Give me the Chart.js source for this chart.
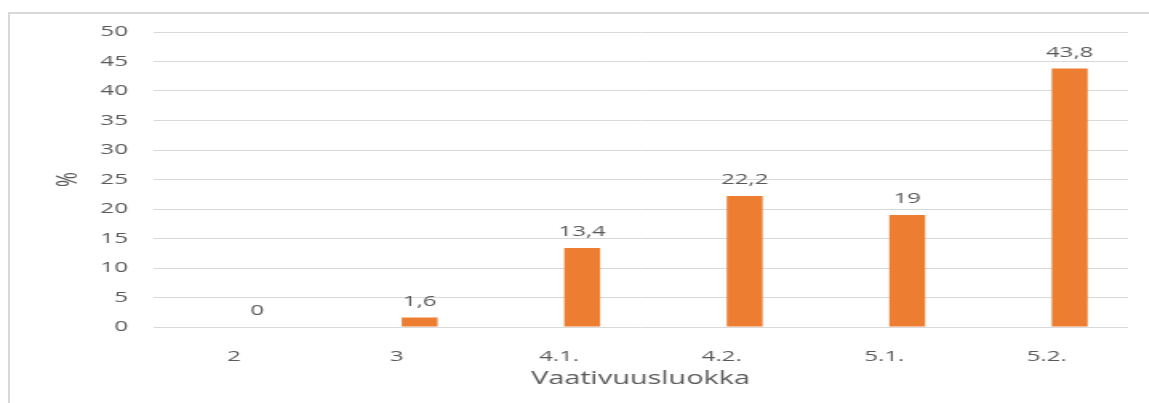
<!DOCTYPE html>
<html>
<head>
<meta charset="utf-8">
<script src="https://cdn.jsdelivr.net/npm/chart.js@4/dist/chart.umd.min.js"></script>
<style>
  html, body { margin: 0; padding: 0; background: #fff; overflow: hidden; }
  #frame { position: absolute; left: 8px; top: 12px; width: 1300px; height: 500px;
           border-left: 2px solid #d9d9d9; border-top: 2px solid #d9d9d9; }
  #wrap { position: absolute; left: 0; top: 0; width: 718px; height: 403px;
          transform: scaleX(1.6); transform-origin: 0 0; }
</style>
</head>
<body>
<div id="frame"></div>
<div id="wrap"><canvas id="vaativuusChart"></canvas></div>
<script>
// Vaativuusluokka jakauma (%)
var categories = ["2", "3", "4.1.", "4.2.", "5.1.", "5.2."];
var percentValues = [0, 1.6, 13.4, 22.2, 19, 43.8];
var yTicksMax = 50;
var yTicksStep = 5;

var textColor = "#595959";
var fontFamily = "'Open Sans', sans-serif";

// arvot pylväiden päälle, pilkku desimaalierottimena
var valueLabels = {
	id: 'valueLabels',
	afterDatasetsDraw: function(chart) {
		var ctx = chart.ctx;
		var meta = chart.getDatasetMeta(1);
		ctx.save();
		ctx.font = "15px " + fontFamily;
		ctx.fillStyle = textColor;
		ctx.textAlign = "center";
		ctx.textBaseline = "alphabetic";
		meta.data.forEach(function(bar, i) {
			var txt = String(percentValues[i]).replace(".", ",");
			ctx.fillText(txt, bar.x, bar.y - 12);
		});
		ctx.restore();
	}
};

var chartData = {
	labels: categories,
	datasets: [
		{ label: "", data: [], backgroundColor: "rgba(0,0,0,0)" },
		{ label: "%", data: percentValues, backgroundColor: "#ED7D31",
		  categoryPercentage: 0.566, barPercentage: 0.78 }
	]
};

new Chart(document.getElementById("vaativuusChart"), {
	type: 'bar',
	data: chartData,
	plugins: [valueLabels],
	options: {
		responsive: true,
		maintainAspectRatio: false,
		animation: false,
		layout: { padding: { left: 0, right: 13, top: 32, bottom: 0 } },
		plugins: { legend: { display: false }, tooltip: { enabled: false } },
		datasets: { bar: { categoryPercentage: 0.566, barPercentage: 0.78 } },
		scales: {
			x: {
				grid: { display: false },
				border: { display: false },
				ticks: { color: textColor, font: { family: fontFamily, size: 15 }, padding: 13 },
				title: { display: true, text: "Vaativuusluokka", color: textColor,
				         font: { family: fontFamily, size: 18 }, padding: { top: 0, bottom: 13 } },
				afterFit: function(scale) { scale.height = 76; }
			},
			y: {
				min: 0,
				max: yTicksMax,
				grid: { color: "#d9d9d9", lineWidth: 1, drawTicks: false },
				border: { display: false },
				ticks: { stepSize: yTicksStep, color: textColor, font: { family: fontFamily, size: 15 }, padding: 15.6 },
				title: { display: true, text: "%", color: textColor,
				         font: { family: fontFamily, size: 18 }, padding: { top: 31.7, bottom: 0 } },
				afterFit: function(scale) { scale.width = 95.6; }
			}
		}
	}
});
</script>
</body>
</html>
